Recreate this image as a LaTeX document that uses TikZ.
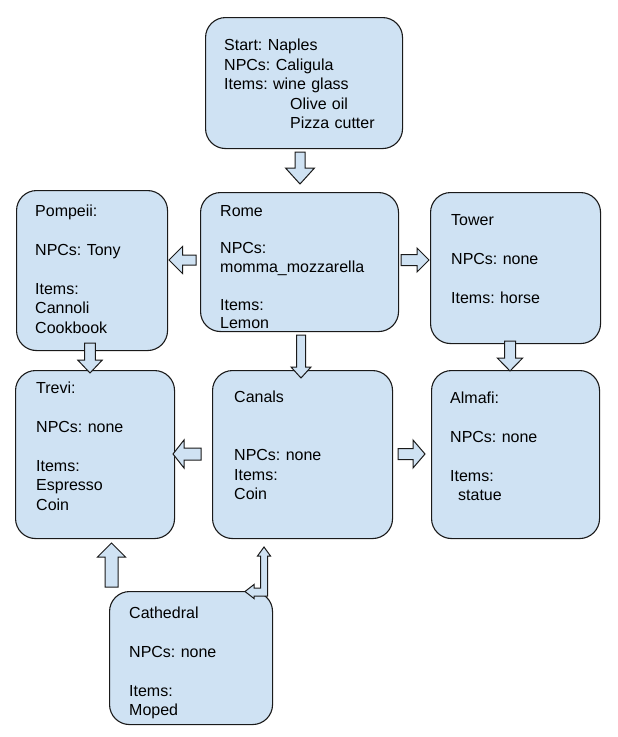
\documentclass[tikz,border=0pt]{standalone}
\usepackage{fontspec}
\setmainfont{Liberation Sans}
\usetikzlibrary{calc}
\definecolor{boxfill}{HTML}{CFE2F3}
\definecolor{boxline}{HTML}{1A1A1A}
\tikzset{
  box/.style={draw=boxline, fill=boxfill, line width=1.1pt, rounded corners=20pt, anchor=north west, inner sep=0pt},
  txt/.style={anchor=base west, inner sep=0pt, text width=190pt, align=left, font=\fontsize{16}{19.5}\selectfont\frenchspacing},
  barrow/.style={draw=boxline, fill=boxfill, line width=1pt, line join=miter}
}
\newcommand\gapline{\\[19.5pt]}
\newcommand\blockarr[5]{%
  \path ($(#2)!#5!(#1)$) coordinate (hb);
  \filldraw[barrow] ($(#1)!#3!90:(#2)$) -- ($(hb)!#3!90:(#2)$) -- ($(hb)!#4!90:(#2)$) -- (#2)
     -- ($(hb)!#4!-90:(#2)$) -- ($(hb)!#3!-90:(#2)$) -- ($(#1)!#3!-90:(#2)$) -- cycle;}
\begin{document}
\begin{tikzpicture}[x=1pt,y=-1pt]
\useasboundingbox[fill=white] (0,0) rectangle (618,737);
% boxes
\node[box, minimum width=197pt, minimum height=131pt] (naples) at (205,17) {};
\node[box, minimum width=198pt, minimum height=139pt] (rome) at (200,192) {};
\node[box, minimum width=151pt, minimum height=160pt] (pompeii) at (16,190) {};
\node[box, minimum width=170pt, minimum height=151pt] (tower) at (430,192) {};
\node[box, minimum width=159pt, minimum height=168pt] (trevi) at (15,370) {};
\node[box, minimum width=180pt, minimum height=168pt] (canals) at (212,370) {};
\node[box, minimum width=168pt, minimum height=168pt] (almafi) at (431,370) {};
\node[box, minimum width=163pt, minimum height=133pt] (cathedral) at (109,591) {};
% texts
\node[txt] (naplesT) at (224,50.5) {Start: Naples\\NPCs: Caligula\\Items: wine glass\\\hspace*{66pt}Olive oil\\\hspace*{66pt}Pizza cutter};
\node[txt, font=\fontsize{16}{18.8}\selectfont\frenchspacing] (romeT) at (220,216) {Rome\\[18.8pt]NPCs:\\momma\_mozzarella\\[18.8pt]Items:\\Lemon};
\node[txt] (pompeiiT) at (35,216) {Pompeii:\gapline NPCs: Tony\gapline Items:\\Cannoli\\Cookbook};
\node[txt] (towerT) at (451,225) {Tower\gapline NPCs: none\gapline Items: horse};
\node[txt] (treviT) at (36,393) {Trevi:\gapline NPCs: none\gapline Items:\\Espresso\\Coin};
\node[txt] (canalsT) at (234,402) {Canals\\[39pt]NPCs: none\\Items:\\Coin};
\node[txt] (almafiT) at (450,403) {Almafi:\gapline NPCs: none\gapline Items:\\\hspace*{8pt}statue};
\node[txt] (cathedralT) at (129,618) {Cathedral\gapline NPCs: none\gapline Items:\\Moped};
% arrow end points
\coordinate (n2r-a) at (300,152); \coordinate (n2r-b) at (300,184);
\coordinate (r2p-a) at (196,260); \coordinate (r2p-b) at (169,260);
\coordinate (r2t-a) at (401,260); \coordinate (r2t-b) at (429,260);
\coordinate (p2v-a) at (90,343); \coordinate (p2v-b) at (90,373);
\coordinate (r2c-a) at (301,335); \coordinate (r2c-b) at (301,378);
\coordinate (t2a-a) at (510,341); \coordinate (t2a-b) at (510,371);
\coordinate (c2v-a) at (201,454); \coordinate (c2v-b) at (173,454);
\coordinate (c2a-a) at (398,454); \coordinate (c2a-b) at (425,454);
\coordinate (d2v-a) at (111.5,587); \coordinate (d2v-b) at (111.5,543);
\blockarr{n2r-a}{n2r-b}{5pt}{14.5pt}{16pt}
\blockarr{r2p-a}{r2p-b}{5pt}{13.5pt}{13.5pt}
\blockarr{r2t-a}{r2t-b}{5.5pt}{12pt}{12pt}
\blockarr{p2v-a}{p2v-b}{5.3pt}{12.3pt}{13pt}
\blockarr{r2c-a}{r2c-b}{4.5pt}{10pt}{11pt}
\blockarr{t2a-a}{t2a-b}{5.5pt}{12.7pt}{13pt}
\blockarr{c2v-a}{c2v-b}{6pt}{14pt}{11pt}
\blockarr{c2a-a}{c2a-b}{5.5pt}{14pt}{12pt}
\blockarr{d2v-a}{d2v-b}{6.5pt}{14pt}{14pt}
% bent double arrow between Cathedral and Canals
\coordinate (bend-up) at (264,547);
\coordinate (bend-left) at (245,591.5);
\filldraw[barrow] (bend-up) -- (270.5,556) -- (267.5,556) -- (267.5,596) -- (254,596) -- (254,598.5)
  -- (bend-left) -- (254,584.5) -- (254,588) -- (260.5,588) -- (260.5,556) -- (257.5,556) -- cycle;
\end{tikzpicture}
\end{document}
